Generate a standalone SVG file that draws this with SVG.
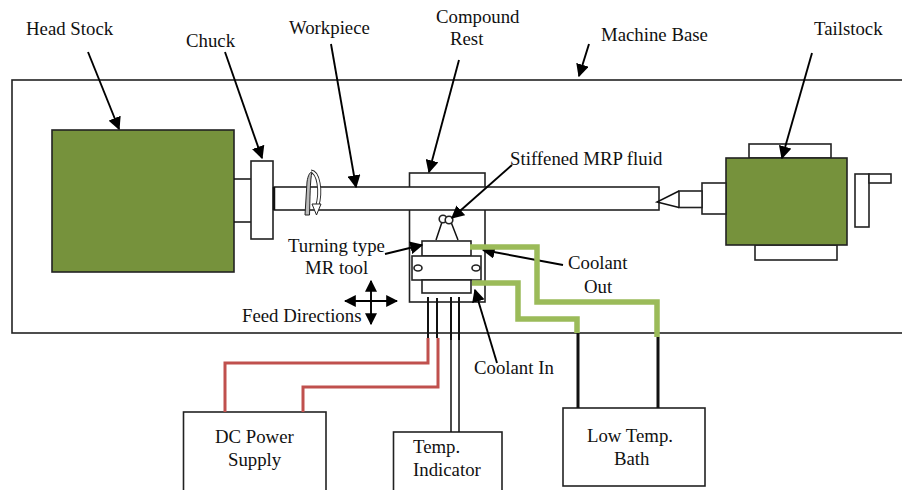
<svg xmlns="http://www.w3.org/2000/svg" width="902" height="490" viewBox="0 0 902 490">
<style>
text{font-family:"Liberation Serif","Times New Roman",serif;font-size:18.8px;fill:#111}
.s{fill:#fff;stroke:#222;stroke-width:1.6}
.g{fill:#76923c;stroke:#222;stroke-width:1.6}
.l{fill:none;stroke:#111;stroke-width:1.5}
.a{fill:none;stroke:#000;stroke-width:1.9;marker-end:url(#ah)}
.f{fill:none;stroke:#000;stroke-width:1.9;marker-start:url(#ad);marker-end:url(#ad)}
.r{fill:none;stroke:#c0504d;stroke-width:3}
.c{fill:none;stroke:#9bbb59;stroke-width:5.5}
.w{fill:none;stroke:#111;stroke-width:2}
.b{fill:none;stroke:#111;stroke-width:3}
</style>
<defs>
<marker id="ah" viewBox="0 0 10 10" refX="9" refY="5" markerWidth="13" markerHeight="13" markerUnits="userSpaceOnUse" orient="auto"><path d="M0 0L10 5L0 10Z" fill="#000"/></marker>
<marker id="ad" viewBox="0 0 10 10" refX="9" refY="5" markerWidth="12" markerHeight="12" markerUnits="userSpaceOnUse" orient="auto-start-reverse"><path d="M0 0L10 5L0 10Z" fill="#000"/></marker>
</defs>
<g id="machine-base"><rect class="s" x="12" y="80" width="900" height="253"/><text x="601" y="41">Machine Base</text></g>
<g id="head-stock"><rect class="g" x="52" y="130" width="182" height="142"/><text x="26" y="35">Head Stock</text></g>
<g id="chuck"><path class="l" d="M234 179H251M234 222H251"/><rect class="s" x="251" y="161" width="22" height="78"/><text x="186" y="47">Chuck</text></g>
<g id="compound-rest"><rect class="s" x="409.500" y="173" width="75.500" height="129"/><text x="436" y="23">Compound</text><text x="450" y="45">Rest</text></g>
<g id="workpiece"><rect class="s" x="274" y="187" width="385" height="23"/><path d="M274 187V210" stroke="#111" stroke-width="2.500"/><path d="M311 171.500C318 172 322 190 317 207" fill="none" stroke="#222" stroke-width="4"/><path d="M311 171.500C318 172 322 190 317 207" fill="none" stroke="#fff" stroke-width="2.200"/><path d="M305 215L307 182C308 175 310 172 312 172C310 180 310 200 309.500 215Z" fill="#bbb" stroke="#222"/><path d="M312 204H321L316.500 215Z" fill="#fff" stroke="#222"/><text x="289" y="34">Workpiece</text></g>
<g id="mr-tool">
<path class="l" d="M436 240L442 222M458 240L451 222"/>
<circle class="s" cx="443" cy="219" r="3.800"/><circle class="s" cx="449" cy="220" r="3.800"/>
<rect class="s" x="422" y="241" width="49" height="15"/>
<rect class="s" x="412" y="256" width="69" height="24"/>
<ellipse class="s" cx="418" cy="268" rx="4" ry="3"/><ellipse class="s" cx="476" cy="268" rx="4" ry="3"/>
<rect class="s" x="422" y="280" width="49" height="13"/>
<text x="288" y="252">Turning type</text><text x="305" y="274">MR tool</text>
<text x="510" y="165">Stiffened MRP fluid</text>
</g>
<g id="tailstock"><rect class="s" x="749" y="144" width="82" height="14"/><rect class="s" x="755" y="245" width="82" height="15"/><rect class="g" x="726" y="158" width="121" height="87"/><rect class="s" x="702" y="183" width="24" height="31"/><rect class="s" x="679" y="191" width="23" height="16.500"/><path class="l" d="M679 191L657 202L679 207.500"/><rect class="s" x="855" y="174" width="14" height="53"/><rect class="s" x="869" y="174" width="22" height="9"/><text x="814" y="35">Tailstock</text></g>
<g id="dc-power-supply"><rect class="s" x="183.500" y="412" width="142.500" height="90"/><text x="215" y="443">DC Power</text><text x="228" y="466">Supply</text></g>
<g id="temp-indicator"><rect class="s" x="393.500" y="432" width="108.500" height="70"/><text x="413" y="453">Temp.</text><text x="413" y="476">Indicator</text></g>
<g id="low-temp-bath"><rect class="s" x="563" y="408" width="142" height="78"/><text x="587" y="442">Low Temp.</text><text x="614" y="465">Bath</text></g>
<g id="labels"><text x="242" y="322">Feed Directions</text><text x="568" y="269">Coolant</text><text x="584" y="293">Out</text><text x="474" y="374">Coolant In</text></g>
<g id="connectors">
<path class="a" d="M88 52L119 129"/>
<path class="a" d="M225 52L262 158"/>
<path class="a" d="M331 44L356 187"/>
<path class="a" d="M459 60L429 172"/>
<path class="a" d="M589 44L579 76"/>
<path class="a" d="M812 53L782 158"/>
<path class="a" d="M512 165L452 218"/>
<path class="a" d="M385 254L422 245"/>
<path class="a" d="M563 265L483 250"/>
<path class="a" d="M497 363L475 290"/>
<path class="f" d="M371 281V324"/>
<path class="f" d="M345 301H397"/>
<path class="c" d="M470 247H537V302H657V337"/>
<path class="c" d="M472 283H518V319H577V333"/>
<path class="w" d="M428 297V338M437 298V338M451 297V340M459 297V340"/>
<path class="b" d="M578 333V408M658 337V408"/>
<path class="r" d="M428 338V363H225V412"/>
<path class="r" d="M438 338V387H303V412"/>
<path class="l" d="M451 340V432M459 340V432"/>
</g>
</svg>
